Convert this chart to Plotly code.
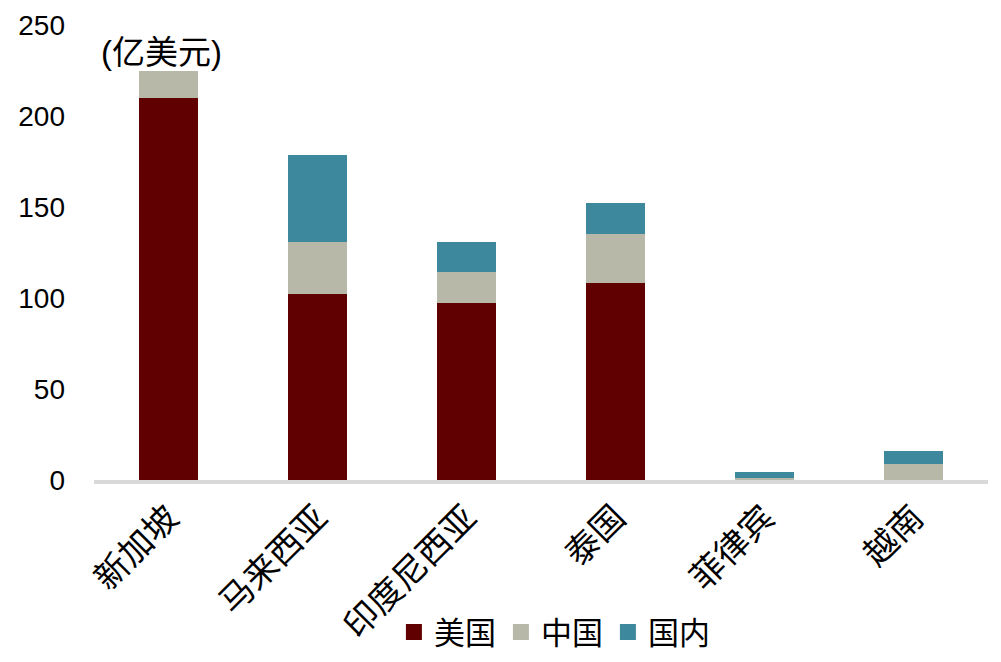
import plotly.graph_objects as go

categories = ["新加坡", "马来西亚", "印度尼西亚", "泰国", "菲律宾", "越南"]
us_values = [210, 102, 97, 108, 0, 0]
china_values = [15, 28.5, 17.5, 27, 1, 9]
domestic_values = [0, 48, 16, 17, 3.5, 7]
series_names = ["美国", "中国", "国内"]
colors = ["#600000", "#B8B8A8", "#3D889C"]
y_ticks = [0, 50, 100, 150, 200, 250]

fig = go.Figure()
for name, vals, c in zip(series_names, [us_values, china_values, domestic_values], colors):
    fig.add_trace(go.Bar(x=categories, y=vals, name=name, marker=dict(color=c, line=dict(width=0)),
                         width=0.4, showlegend=False, legendgroup=name))
# legend entries with square swatches
for name, c in zip(series_names, colors):
    fig.add_trace(go.Scatter(x=[None], y=[None], mode="markers", name=name, legendgroup=name,
                             marker=dict(symbol="square", size=17, color=c), showlegend=True))

font_family = "Liberation Sans, Arial, Noto Sans CJK SC"
fig.update_layout(
    barmode="stack",
    width=1001, height=662,
    margin=dict(l=86, r=21, t=17, b=190, autoexpand=False),
    paper_bgcolor="white", plot_bgcolor="white",
    font=dict(family=font_family, size=28, color="black"),
    showlegend=True,
    legend=dict(orientation="h", x=0.515, xanchor="center", y=-0.335, yanchor="middle",
                font=dict(size=31), itemwidth=30, itemsizing="trace", traceorder="normal"),
    xaxis=dict(showline=True, linecolor="#D9D9D9", linewidth=4, tickangle=-45,
               tickfont=dict(size=34), ticks="", showgrid=False),
    yaxis=dict(range=[0, 250], tickvals=y_ticks, showgrid=False, showline=False,
               ticks="", zeroline=False, tickfont=dict(size=28), ticklabelstandoff=28,
               ticklabeloverflow="allow"),
    annotations=[dict(text="(亿美元)", x=0.075, y=0.94, xref="paper", yref="paper",
                      showarrow=False, font=dict(size=33), xanchor="center", yanchor="middle")],
)
fig.write_html("out.html")
